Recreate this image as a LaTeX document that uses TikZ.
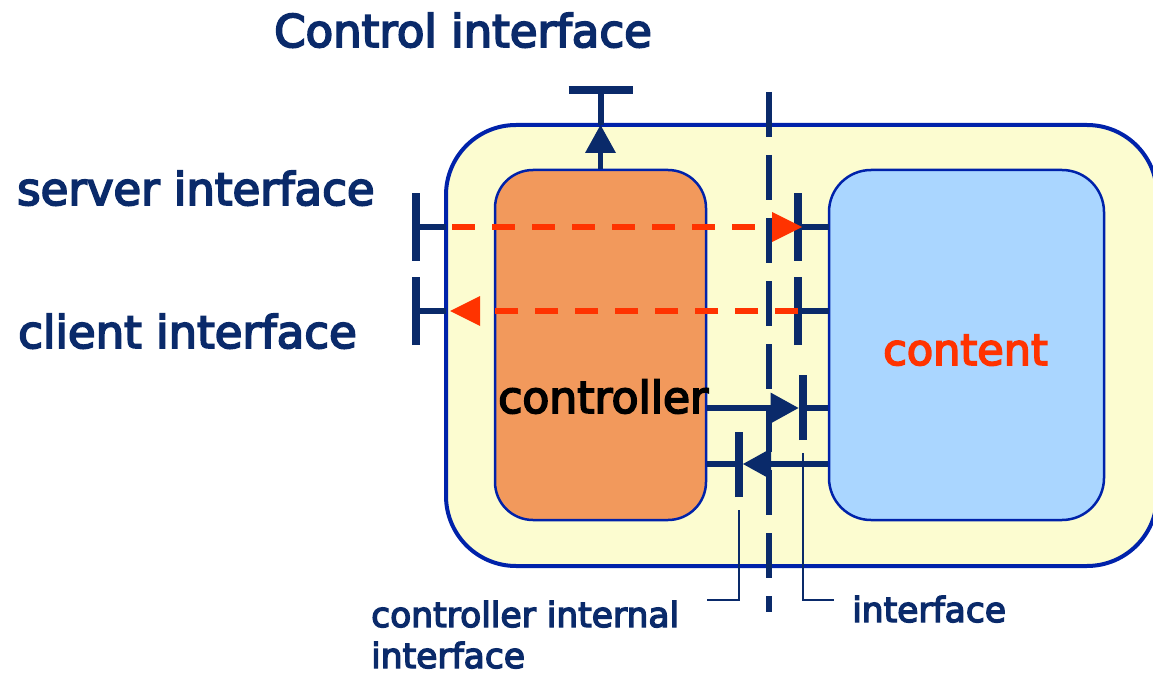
\documentclass[tikz,border=0pt]{standalone}
\usepackage{fontspec}
\setmainfont{DejaVu Sans}[FakeBold=4]
\usetikzlibrary{arrows.meta}
\definecolor{navy}{RGB}{10,42,106}
\definecolor{boxblue}{RGB}{0,34,170}
\definecolor{pale}{RGB}{252,252,208}
\definecolor{orng}{RGB}{242,153,92}
\definecolor{sky}{RGB}{170,214,255}
\definecolor{redo}{RGB}{255,51,0}
\begin{document}
\begin{tikzpicture}[x=1pt,y=-1pt,
  box/.style={draw=boxblue, rectangle, inner sep=0pt},
  tbar/.style={draw=navy, line width=8pt},
  tstem/.style={draw=navy, line width=6pt},
  navyarrow/.style={draw=navy, line width=5.5pt, -{Triangle[length=28pt,width=31pt,line width=0pt]}},
  redarrow/.style={draw=redo, line width=6pt, dash pattern=on 23pt off 17pt, -{Triangle[length=30pt,width=30pt,line width=0pt]}},
  callout/.style={draw=navy, line width=2pt},
  vdash/.style={draw=navy, line width=6pt, dash pattern=on 45pt off 18pt},
  big/.style={font=\fontsize{45}{50}\selectfont, inner sep=0pt, anchor=base west},
  small/.style={font=\fontsize{34.5}{45}\selectfont, inner sep=0pt, anchor=base west, text=navy}
]
\useasboundingbox (0,0) rectangle (1153,676);
\clip (0,0) rectangle (1153,676);

% boxes
\node[box, fill=pale, line width=4pt, rounded corners=70pt, minimum width=711pt, minimum height=441pt] (outer) at (801.5,345.5) {};
\node[box, fill=orng, line width=2.5pt, rounded corners=38pt, minimum width=211pt, minimum height=350pt] (ctrl) at (600.5,345) {};
\node[box, fill=sky, line width=2.5pt, rounded corners=42pt, minimum width=275pt, minimum height=350pt] (content) at (966.5,345) {};

% labels
\node[big, text=navy] (title) at (274,47) {Control interface};
\node[big, text=navy] (srvlbl) at (17,205) {server interface};
\node[big, text=navy] (clilbl) at (18,348) {client interface};
\node[big, text=black, font=\fontsize{44}{50}\selectfont] (ctrllbl) at (498,413) {controller};
\node[big, text=redo, font=\fontsize{43}{50}\selectfont] (contlbl) at (883,365) {content};
\node[small] (cil1) at (371,627) {controller internal};
\node[small] (cil2) at (371,668) {interface};
\node[small] (ilbl) at (852,622) {interface};

% dashed vertical boundary
\coordinate (vtop) at (769,92);
\coordinate (vbot) at (769,612);
\draw[vdash] (vtop) -- (vbot);

% control interface
\coordinate (ctTop) at (600.5,90.5);
\coordinate (ctBase) at (600.5,125);
\draw[navyarrow] (ctrl.north) -- (ctBase);
\draw[tstem] (ctBase) -- (ctTop);
\draw[tbar] ([xshift=-32pt]ctTop) -- ([xshift=32pt]ctTop);

% server interface
\coordinate (sL) at (415.5,227);
\coordinate (sLin) at (446,227);
\coordinate (sR) at (798,227);
\coordinate (sRin) at (829,227);
\draw[tbar] ([yshift=-34pt]sL) -- ([yshift=34pt]sL);
\draw[tstem] (sL) -- (sLin);
\draw[tbar] ([yshift=-34pt]sR) -- ([yshift=34pt]sR);
\draw[tstem] (sR) -- (sRin);
\draw[redarrow] ([xshift=6pt]sLin) -- ([xshift=4pt]sR);

% client interface
\coordinate (cL) at (415.5,311);
\coordinate (cLin) at (446,311);
\coordinate (cR) at (798,311);
\coordinate (cRin) at (829,311);
\draw[tbar] ([yshift=-34pt]cL) -- ([yshift=34pt]cL);
\draw[tstem] (cL) -- (cLin);
\draw[tbar] ([yshift=-34pt]cR) -- ([yshift=34pt]cR);
\draw[tstem] (cR) -- (cRin);
\draw[redarrow] (cR) -- ([xshift=4pt]cLin);

% controller -> content
\coordinate (pR) at (802.5,408);
\draw[navyarrow] (ctrl.east |- pR) -- ([xshift=-4pt]pR);
\draw[tbar] ([yshift=-32pt]pR) -- ([yshift=33pt]pR);
\draw[tstem] (pR) -- (content.west |- pR);

% content -> controller
\coordinate (pL) at (739,464);
\draw[navyarrow] (content.west |- pL) -- ([xshift=4pt]pL);
\draw[tbar] ([yshift=-33pt]pL) -- ([yshift=32pt]pL);
\draw[tstem] (pL) -- (ctrl.east |- pL);

% callouts
\coordinate (k1) at (739,600);
\coordinate (k2) at (802.5,600);
\draw[callout] ([yshift=-46pt]pL) -- (k1) -- ([xshift=-32pt]k1);
\draw[callout] ([yshift=-45pt]pR) -- (k2) -- ([xshift=31pt]k2);
\end{tikzpicture}
\end{document}
